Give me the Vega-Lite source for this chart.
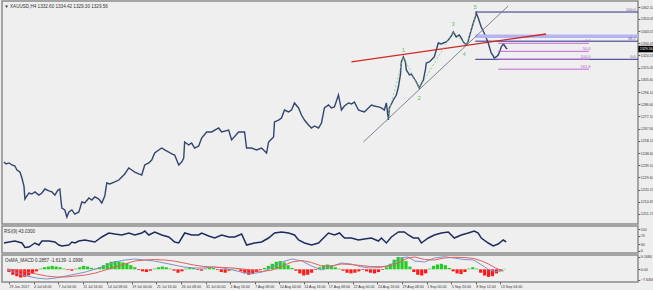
{
 "$schema": "https://vega.github.io/schema/vega-lite/v6.json",
 "background": "#eeeeee",
 "padding": 0,
 "spacing": 2,
 "bounds": "flush",
 "resolve": {"scale": {"x": "independent", "y": "independent"}},
 "config": {
  "view": {"stroke": "#8c8c8c", "strokeWidth": 1.5, "fill": "#efefef"},
  "axis": {"labelFont": "Liberation Sans", "labelFontSize": 3.6, "labelColor": "#333333", "tickColor": "#555555", "tickSize": 1.8, "labelPadding": 0.5, "domain": false, "grid": false, "title": null, "labelOverlap": false, "tickCount": 60},
  "title": {"font": "Liberation Sans", "fontSize": 4.6, "fontWeight": "normal", "color": "#333333", "anchor": "start", "baseline": "top", "offset": -8, "dx": 3}
 },
 "datasets": {
  "price": [
   {"t":0,"p":1241.6},{"t":1.3,"p":1240.1},{"t":3.2,"p":1240.9},{"t":5.1,"p":1239.3},{"t":7.0,"p":1238.5},{"t":8.3,"p":1235.4},{"t":10.2,"p":1233.8},{"t":11.5,"p":1229.2},{"t":12.8,"p":1222.9},{"t":13.4,"p":1212.8},{"t":14.7,"p":1215.2},{"t":16,"p":1217.5},{"t":17.9,"p":1216.7},{"t":19.8,"p":1218.3},{"t":22.4,"p":1215.9},{"t":24.3,"p":1217.5},{"t":26.2,"p":1220.6},{"t":28.8,"p":1219.1},{"t":30.7,"p":1218.3},{"t":32.6,"p":1215.9},{"t":34.6,"p":1219.8},{"t":35.8,"p":1220.6},{"t":36.5,"p":1212.0},{"t":37.1,"p":1205.8},{"t":39,"p":1204.3},{"t":40.3,"p":1198.8},{"t":41.6,"p":1202.7},{"t":43.5,"p":1204.3},{"t":45.4,"p":1201.1},{"t":48,"p":1202.7},{"t":49.9,"p":1210.5},{"t":51.8,"p":1209.7},{"t":54.4,"p":1213.6},{"t":56.3,"p":1212.0},{"t":58.2,"p":1214.4},{"t":60.8,"p":1212.8},{"t":62.7,"p":1209.7},{"t":64.6,"p":1215.2},{"t":65.9,"p":1225.3},{"t":67.8,"p":1224.5},{"t":71,"p":1226.1},{"t":73.6,"p":1227.6},{"t":75.5,"p":1230.0},{"t":77.4,"p":1232.3},{"t":80,"p":1237.0},{"t":81.9,"p":1235.4},{"t":83.8,"p":1233.8},{"t":86.4,"p":1232.3},{"t":88.3,"p":1231.5},{"t":90.2,"p":1239.3},{"t":92.8,"p":1240.9},{"t":94.7,"p":1243.2},{"t":96.6,"p":1248.6},{"t":99.2,"p":1251.0},{"t":101.1,"p":1252.5},{"t":103,"p":1251.0},{"t":105.6,"p":1249.4},{"t":107.5,"p":1247.9},{"t":109.4,"p":1247.1},{"t":112,"p":1239.3},{"t":113.9,"p":1241.6},{"t":115.2,"p":1244.7},{"t":115.8,"p":1257.2},{"t":118.4,"p":1254.9},{"t":120.3,"p":1256.4},{"t":122.2,"p":1252.5},{"t":124.8,"p":1254.1},{"t":126.7,"p":1260.3},{"t":129.9,"p":1265.0},{"t":133.1,"p":1265.0},{"t":137.6,"p":1268.1},{"t":139.5,"p":1265.0},{"t":144,"p":1266.5},{"t":145.9,"p":1258.8},{"t":150.4,"p":1265.0},{"t":154.2,"p":1265.0},{"t":155.5,"p":1252.5},{"t":158.7,"p":1252.5},{"t":161.9,"p":1251.0},{"t":165.1,"p":1252.5},{"t":168.3,"p":1248.6},{"t":169.6,"p":1257.2},{"t":172.8,"p":1261.1},{"t":173.4,"p":1272.8},{"t":176,"p":1274.3},{"t":177.9,"p":1275.9},{"t":179.8,"p":1282.1},{"t":182.4,"p":1280.6},{"t":184.3,"p":1282.1},{"t":186.2,"p":1287.6},{"t":188.8,"p":1283.7},{"t":190.7,"p":1278.2},{"t":192.6,"p":1274.3},{"t":195.2,"p":1270.4},{"t":197.1,"p":1268.1},{"t":199,"p":1269.7},{"t":201.6,"p":1268.1},{"t":203.5,"p":1272.0},{"t":205.4,"p":1283.7},{"t":208,"p":1286.0},{"t":209.9,"p":1283.7},{"t":211.8,"p":1284.5},{"t":214.4,"p":1293.8},{"t":216.3,"p":1282.1},{"t":218.2,"p":1285.2},{"t":220.8,"p":1287.6},{"t":222.7,"p":1286.8},{"t":224.6,"p":1288.3},{"t":227.2,"p":1282.1},{"t":229.1,"p":1281.3},{"t":231,"p":1280.6},{"t":233.6,"p":1283.7},{"t":235.5,"p":1286.0},{"t":237.4,"p":1285.2},{"t":240,"p":1284.5},{"t":241.9,"p":1283.7},{"t":243.8,"p":1282.1},{"t":245.1,"p":1287.6},{"t":246.4,"p":1274.3},{"t":247,"p":1283.7},{"t":249.6,"p":1289.9},{"t":251.5,"p":1293.8},{"t":252.8,"p":1300.0},{"t":254.1,"p":1309.4},{"t":254.7,"p":1319.5},{"t":256,"p":1323.4},{"t":257.3,"p":1319.5},{"t":257.9,"p":1313.3},{"t":259.2,"p":1310.9},{"t":259.8,"p":1309.4},{"t":261.1,"p":1310.1},{"t":262.4,"p":1307.8},{"t":264.3,"p":1303.9},{"t":266.2,"p":1299.2},{"t":267.5,"p":1302.4},{"t":268.8,"p":1305.5},{"t":270.1,"p":1313.3},{"t":270.7,"p":1318.7},{"t":272.6,"p":1319.5},{"t":273.9,"p":1321.0},{"t":275.8,"p":1323.4},{"t":277.1,"p":1328.8},{"t":278.4,"p":1334.3},{"t":280.3,"p":1333.5},{"t":281.6,"p":1334.3},{"t":283.5,"p":1335.1},{"t":284.8,"p":1336.6},{"t":286.7,"p":1339.7},{"t":288,"p":1342.9},{"t":289.9,"p":1339.0},{"t":291.8,"p":1340.5},{"t":293.1,"p":1338.2},{"t":294.4,"p":1335.1},{"t":296.3,"p":1332.7},{"t":297.6,"p":1335.8},{"t":298.2,"p":1339.0},{"t":299.5,"p":1344.4},{"t":300.8,"p":1349.9},{"t":302.1,"p":1354.5},{"t":302.7,"p":1357.6},{"t":304,"p":1353.7},{"t":305.9,"p":1346.7},{"t":307.8,"p":1342.1},{"t":309.1,"p":1338.2},{"t":310.4,"p":1334.3},{"t":312.3,"p":1326.5},{"t":313.6,"p":1324.2},{"t":314.2,"p":1322.6},{"t":315.5,"p":1323.4},{"t":316.8,"p":1324.9},{"t":318.1,"p":1328.8},{"t":318.7,"p":1331.2},{"t":320,"p":1333.5},{"t":320.6,"p":1332.7},{"t":321.9,"p":1330.4},{"t":322.6,"p":1329.6}
  ],
  "trend": [{"t":230.4,"p":1257.2},{"t":323.2,"p":1363.1}],
  "redline": [{"t":222.7,"p":1319.5},{"t":347.5,"p":1341.3}],
  "zigzag": [{"t":245.1,"p":1272.8},{"t":256,"p":1323.4},{"t":266.2,"p":1299.2},{"t":288,"p":1342.9},{"t":296.3,"p":1332.7},{"t":302.7,"p":1357.6}],
  "waves": [{"t":256,"p":1328.8,"w":"1"},{"t":266.2,"p":1291.5,"w":"2"},{"t":288,"p":1349.1,"w":"3"},{"t":295.0,"p":1325.7,"w":"4"},{"t":302.1,"p":1362.3,"w":"5"}],
  "band": [{"t1":302.1,"t2":406.4,"p":1339.5}],
  "fibA": [{"t1":302.1,"t2":406.4,"tl":405,"p":1358.4,"lbl":"100.0"},{"t1":302.1,"t2":406.4,"tl":405,"p":1335.7,"lbl":"38.2"},{"t1":302.1,"t2":406.4,"tl":405,"p":1321.6,"lbl":"0.0"}],
  "fibB": [{"t1":316.8,"t2":375.0,"tl":376,"p":1334.05,"lbl":"0.0"},{"t1":316.8,"t2":375.0,"tl":376,"p":1327.8,"lbl":"50.0"},{"t1":316.8,"t2":375.0,"tl":376,"p":1321.6,"lbl":"100.0"},{"t1":316.8,"t2":375.0,"tl":376,"p":1313.9,"lbl":"161.8"}],
  "last": [{"t1":406.6,"t2":418.5,"p":1329.56,"lbl":"1329.56"}],
  "rsi": [
   {"t":0,"r":36},{"t":3.2,"r":40.7},{"t":7.04,"r":45.3},{"t":11.52,"r":36},{"t":13.44,"r":15},{"t":16,"r":17.3},{"t":19.84,"r":36},{"t":22.4,"r":26.6},{"t":24.32,"r":45.3},{"t":28.8,"r":45.3},{"t":32.64,"r":40.7},{"t":35.2,"r":26.6},{"t":37.12,"r":22},{"t":41.6,"r":26.6},{"t":43.52,"r":40.7},{"t":45.44,"r":36},{"t":48,"r":45.3},{"t":51.84,"r":50},{"t":58.24,"r":40.7},{"t":62.72,"r":64},{"t":67.2,"r":82.7},{"t":71.04,"r":78},{"t":75.52,"r":73.4},{"t":80,"r":82.7},{"t":83.84,"r":73.4},{"t":88.32,"r":82.7},{"t":90.24,"r":92},{"t":92.8,"r":73.4},{"t":96.64,"r":87.4},{"t":101.12,"r":73.4},{"t":105.6,"r":64},{"t":109.44,"r":40.7},{"t":112,"r":36},{"t":115.84,"r":82.7},{"t":120.32,"r":73.4},{"t":124.8,"r":73.4},{"t":126.72,"r":82.7},{"t":131.2,"r":68.7},{"t":135.04,"r":59.3},{"t":139.52,"r":73.4},{"t":144,"r":64},{"t":147.84,"r":64},{"t":152.32,"r":78},{"t":155.52,"r":26.6},{"t":160.64,"r":36},{"t":165.12,"r":40.7},{"t":169.6,"r":59.3},{"t":173.44,"r":82.7},{"t":177.92,"r":87.4},{"t":182.4,"r":82.7},{"t":186.24,"r":73.4},{"t":188.8,"r":50},{"t":192.64,"r":36},{"t":197.12,"r":26.6},{"t":201.6,"r":36},{"t":203.52,"r":50},{"t":206.72,"r":73.4},{"t":208,"r":82.7},{"t":211.84,"r":73.4},{"t":215.04,"r":82.7},{"t":218.24,"r":59.3},{"t":222.72,"r":59.3},{"t":227.2,"r":50},{"t":231.04,"r":54.7},{"t":235.52,"r":59.3},{"t":240,"r":45.3},{"t":241.92,"r":59.3},{"t":245.12,"r":36},{"t":248.32,"r":64},{"t":252.8,"r":87.4},{"t":256.64,"r":87.4},{"t":259.2,"r":73.4},{"t":262.4,"r":59.3},{"t":265.6,"r":59.3},{"t":267.52,"r":36},{"t":272,"r":59.3},{"t":275.84,"r":73.4},{"t":280.32,"r":82.7},{"t":284.8,"r":87.4},{"t":288.64,"r":59.3},{"t":293.12,"r":73.4},{"t":297.6,"r":82.7},{"t":301.44,"r":92},{"t":304,"r":82.7},{"t":305.92,"r":59.3},{"t":310.4,"r":36},{"t":313.6,"r":22},{"t":316.8,"r":31.3},{"t":320,"r":50},{"t":321.92,"r":40.7}
  ],
  "macd": [
   {"t":-1.28,"m":-0.51,"s":0.22},{"t":5.12,"m":-2.69,"s":-0.51},{"t":11.52,"m":-4.88,"s":-1.97},{"t":17.92,"m":-6.33,"s":-3.42},{"t":24.32,"m":-7.06,"s":-4.88},{"t":30.72,"m":-6.33,"s":-5.6},{"t":37.12,"m":-4.88,"s":-5.6},{"t":43.52,"m":-3.42,"s":-4.88},{"t":49.92,"m":-1.97,"s":-4.15},{"t":56.32,"m":0.22,"s":-2.69},{"t":62.72,"m":2.4,"s":-0.51},{"t":69.12,"m":5.31,"s":1.67},{"t":75.52,"m":6.77,"s":3.86},{"t":81.92,"m":7.5,"s":6.04},{"t":88.32,"m":6.77,"s":6.77},{"t":94.72,"m":6.04,"s":7.13},{"t":101.12,"m":4.59,"s":6.77},{"t":107.52,"m":3.13,"s":6.04},{"t":113.92,"m":1.67,"s":4.59},{"t":120.32,"m":0.95,"s":3.13},{"t":126.72,"m":0.95,"s":2.04},{"t":133.12,"m":1.67,"s":1.67},{"t":139.52,"m":0.95,"s":1.31},{"t":145.92,"m":-0.51,"s":0.95},{"t":152.32,"m":-2.33,"s":0.22},{"t":158.72,"m":-3.06,"s":-0.87},{"t":165.12,"m":-1.97,"s":-1.6},{"t":171.52,"m":1.67,"s":-0.51},{"t":177.92,"m":5.31,"s":2.4},{"t":184.32,"m":7.5,"s":5.31},{"t":190.72,"m":6.04,"s":6.4},{"t":197.12,"m":2.4,"s":4.95},{"t":203.52,"m":-0.51,"s":2.4},{"t":209.92,"m":1.89,"s":2.4},{"t":216.32,"m":4.59,"s":3.86},{"t":222.72,"m":3.86,"s":3.49},{"t":229.12,"m":1.89,"s":2.77},{"t":235.52,"m":0.95,"s":2.04},{"t":241.92,"m":1.31,"s":1.89},{"t":248.32,"m":3.13,"s":2.4},{"t":254.72,"m":8.22,"s":5.31},{"t":259.84,"m":8.95,"s":8.22},{"t":264.32,"m":6.04,"s":8.95},{"t":270.72,"m":5.31,"s":7.13},{"t":277.12,"m":8.22,"s":6.77},{"t":283.52,"m":9.17,"s":8.22},{"t":289.92,"m":8.22,"s":8.73},{"t":296.32,"m":7.13,"s":8.59},{"t":302.72,"m":6.77,"s":7.86},{"t":307.84,"m":3.13,"s":6.04},{"t":312.32,"m":-0.15,"s":3.86},{"t":316.8,"m":-1.75,"s":0.95},{"t":321.92,"m":-1.02,"s":-1.24}
  ],
  "hist": [
   {"t":0,"h":-2},{"t":2.56,"h":-4},{"t":5.12,"h":-5},{"t":7.68,"h":-6},{"t":10.24,"h":-5.5},{"t":12.8,"h":-4.5},{"t":15.36,"h":-3},{"t":17.92,"h":-1.5},{"t":20.48,"h":0.5},{"t":23.04,"h":1.5},{"t":25.6,"h":2},{"t":28.16,"h":2.5},{"t":30.72,"h":2},{"t":33.28,"h":1.5},{"t":35.84,"h":0.5},{"t":38.4,"h":-0.5},{"t":40.96,"h":-1},{"t":43.52,"h":0.5},{"t":46.08,"h":1.5},{"t":48.64,"h":2.5},{"t":51.2,"h":2},{"t":53.76,"h":1},{"t":56.32,"h":0.5},{"t":58.88,"h":1.5},{"t":61.44,"h":3},{"t":64,"h":4.5},{"t":66.56,"h":5.5},{"t":69.12,"h":6},{"t":71.68,"h":5.5},{"t":74.24,"h":5},{"t":76.8,"h":4.5},{"t":79.36,"h":3},{"t":81.92,"h":1.5},{"t":84.48,"h":-0.5},{"t":87.04,"h":-1.5},{"t":89.6,"h":-2},{"t":92.16,"h":-1},{"t":94.72,"h":0.5},{"t":97.28,"h":1.5},{"t":99.84,"h":2},{"t":102.4,"h":1.5},{"t":104.96,"h":0.5},{"t":107.52,"h":-1},{"t":110.08,"h":-2.5},{"t":112.64,"h":-1.5},{"t":115.2,"h":0.5},{"t":117.76,"h":1.5},{"t":120.32,"h":1},{"t":122.88,"h":-0.5},{"t":125.44,"h":-1},{"t":128,"h":0.5},{"t":130.56,"h":1.5},{"t":133.12,"h":1},{"t":135.68,"h":-0.5},{"t":138.24,"h":-2},{"t":140.8,"h":-2.5},{"t":143.36,"h":-1},{"t":145.92,"h":0.5},{"t":148.48,"h":0.5},{"t":151.04,"h":-1.5},{"t":153.6,"h":-3},{"t":156.16,"h":-4},{"t":158.72,"h":-3.5},{"t":161.28,"h":-2},{"t":163.84,"h":-0.5},{"t":166.4,"h":1},{"t":168.96,"h":2.5},{"t":171.52,"h":4},{"t":174.08,"h":5.5},{"t":176.64,"h":6},{"t":179.2,"h":5},{"t":181.76,"h":3},{"t":184.32,"h":1},{"t":186.88,"h":-1},{"t":189.44,"h":-3},{"t":192,"h":-4.5},{"t":194.56,"h":-4},{"t":197.12,"h":-2.5},{"t":199.68,"h":-0.5},{"t":202.24,"h":1.5},{"t":204.8,"h":3},{"t":207.36,"h":3.5},{"t":209.92,"h":3},{"t":212.48,"h":1.5},{"t":215.04,"h":0.5},{"t":217.6,"h":-1},{"t":220.16,"h":-2.5},{"t":222.72,"h":-3},{"t":225.28,"h":-2.5},{"t":227.84,"h":-1.5},{"t":230.4,"h":-0.5},{"t":232.96,"h":-1.5},{"t":235.52,"h":-2.5},{"t":238.08,"h":-3},{"t":240.64,"h":-2},{"t":243.2,"h":-0.5},{"t":245.76,"h":1.5},{"t":248.32,"h":4},{"t":250.88,"h":7},{"t":253.44,"h":9},{"t":256,"h":8.5},{"t":258.56,"h":6},{"t":261.12,"h":2},{"t":263.68,"h":-2},{"t":266.24,"h":-4},{"t":268.8,"h":-4.5},{"t":271.36,"h":-3},{"t":273.92,"h":0.5},{"t":276.48,"h":2.5},{"t":279.04,"h":3.5},{"t":281.6,"h":4},{"t":284.16,"h":3},{"t":286.72,"h":1},{"t":289.28,"h":-1.5},{"t":291.84,"h":-3},{"t":294.4,"h":-3.5},{"t":296.96,"h":-2},{"t":299.52,"h":0.5},{"t":302.08,"h":1.5},{"t":304.64,"h":0.5},{"t":307.2,"h":-2.5},{"t":309.76,"h":-4.5},{"t":312.32,"h":-5.5},{"t":314.88,"h":-5},{"t":317.44,"h":-3},{"t":320,"h":-1},{"t":322.56,"h":0.3}
  ]
 },
 "vconcat": [
  {
   "width": 636, "height": 223,
   "title": {"text": "▼ XAUUSD,H4  1332.60 1334.42 1329.30 1329.56"},
   "layer": [
    {
     "data": {"name": "price"},
     "mark": {"type": "line", "color": "#34456f", "strokeWidth": 1.4},
     "encoding": {
      "x": {"field": "t", "type": "quantitative", "scale": {"domain": [-1.28, 406.4], "nice": false, "zero": false}, "axis": null},
      "y": {"field": "p", "type": "quantitative", "scale": {"domain": [1193.35, 1366.98], "nice": false, "zero": false},
            "axis": {"orient": "right", "labelOverlap": false, "tickCount": 60, "values": [1201.15,1210.65,1220.15,1229.6,1239.1,1248.6,1258.1,1267.6,1277.1,1286.6,1296.1,1305.6,1315.05,1324.55,1334.05,1343.55,1353.05,1362.1], "labelExpr": "format(datum.value, '.2f')"}}
     }
    },
    {
     "mark": {"type": "rule", "color": "#c4c4c4", "strokeWidth": 0.8},
     "encoding": {"y": {"datum": 1329.56}}
    },
    {
     "data": {"name": "band"},
     "mark": {"type": "rule", "color": "#b4b4f2", "strokeWidth": 3.5},
     "encoding": {"x": {"field": "t1", "type": "quantitative"}, "x2": {"field": "t2"}, "y": {"field": "p", "type": "quantitative"}}
    },
    {
     "data": {"name": "fibA"},
     "mark": {"type": "rule", "color": "#2c2f86", "strokeWidth": 1},
     "encoding": {"x": {"field": "t1", "type": "quantitative"}, "x2": {"field": "t2"}, "y": {"field": "p", "type": "quantitative"}}
    },
    {
     "data": {"name": "fibA"},
     "mark": {"type": "text", "color": "#8a4fa8", "fontSize": 4, "align": "right", "baseline": "bottom", "dy": -0.5, "font": "Liberation Sans"},
     "encoding": {"x": {"field": "tl", "type": "quantitative"}, "y": {"field": "p", "type": "quantitative"}, "text": {"field": "lbl"}}
    },
    {
     "data": {"name": "fibB"},
     "mark": {"type": "rule", "color": "#c266d6", "strokeWidth": 1},
     "encoding": {"x": {"field": "t1", "type": "quantitative"}, "x2": {"field": "t2"}, "y": {"field": "p", "type": "quantitative"}}
    },
    {
     "data": {"name": "fibB"},
     "mark": {"type": "text", "color": "#b060c8", "fontSize": 4, "align": "right", "baseline": "bottom", "dy": -0.5, "font": "Liberation Sans"},
     "encoding": {"x": {"field": "tl", "type": "quantitative"}, "y": {"field": "p", "type": "quantitative"}, "text": {"field": "lbl"}}
    },
    {
     "data": {"name": "trend"},
     "mark": {"type": "line", "color": "#6f7b8c", "strokeWidth": 0.9},
     "encoding": {"x": {"field": "t", "type": "quantitative"}, "y": {"field": "p", "type": "quantitative"}}
    },
    {
     "data": {"name": "redline"},
     "mark": {"type": "line", "color": "#d02828", "strokeWidth": 1.3},
     "encoding": {"x": {"field": "t", "type": "quantitative"}, "y": {"field": "p", "type": "quantitative"}}
    },
    {
     "data": {"name": "zigzag"},
     "mark": {"type": "line", "color": "#7ccf7c", "strokeWidth": 0.8, "strokeDash": [2, 2]},
     "encoding": {"x": {"field": "t", "type": "quantitative"}, "y": {"field": "p", "type": "quantitative"}}
    },
    {
     "data": {"name": "waves"},
     "mark": {"type": "text", "color": "#66c066", "fontSize": 6, "font": "Liberation Sans"},
     "encoding": {"x": {"field": "t", "type": "quantitative"}, "y": {"field": "p", "type": "quantitative"}, "text": {"field": "w"}}
    },
    {
     "data": {"name": "last"},
     "mark": {"type": "rule", "color": "#000000", "strokeWidth": 6.5},
     "encoding": {"x": {"field": "t1", "type": "quantitative"}, "x2": {"field": "t2"}, "y": {"field": "p", "type": "quantitative"}}
    },
    {
     "data": {"name": "last"},
     "mark": {"type": "text", "color": "#ffffff", "fontSize": 3.6, "align": "left", "baseline": "middle", "dx": 1.5, "font": "Liberation Sans"},
     "encoding": {"x": {"field": "t1", "type": "quantitative"}, "y": {"field": "p", "type": "quantitative"}, "text": {"field": "lbl"}}
    }
   ]
  },
  {
   "width": 636, "height": 27,
   "title": {"text": "RSI(9) 43.0300"},
   "layer": [
    {
     "data": {"name": "rsi"},
     "mark": {"type": "line", "color": "#1f2d5e", "strokeWidth": 1.5},
     "encoding": {
      "x": {"field": "t", "type": "quantitative", "scale": {"domain": [-1.28, 406.4], "nice": false, "zero": false}, "axis": null},
      "y": {"field": "r", "type": "quantitative", "scale": {"domain": [-10.7, 115.4], "nice": false, "zero": false}, "axis": {"orient": "right", "labelOverlap": false, "tickCount": 60, "values": [0, 30, 70, 100]}}
     }
    },
    {
     "mark": {"type": "rule", "color": "#b0b0b0", "strokeWidth": 0.7, "strokeDash": [1.5, 1.5]},
     "encoding": {"y": {"datum": 70}}
    },
    {
     "mark": {"type": "rule", "color": "#b0b0b0", "strokeWidth": 0.7, "strokeDash": [1.5, 1.5]},
     "encoding": {"y": {"datum": 30}}
    }
   ]
  },
  {
   "width": 636, "height": 27,
   "title": {"text": "OsMA_MACD 0.2857 -1.6139 -1.0996"},
   "layer": [
    {
     "data": {"name": "hist"},
     "mark": {"type": "bar", "size": 3.2},
     "encoding": {
      "x": {"field": "t", "type": "quantitative", "scale": {"domain": [-1.28, 406.4], "nice": false, "zero": false},
            "axis": {"orient": "bottom", "labelOverlap": false, "tickCount": 60, "values": [0,16,32,48,64,80,96,112,128,144,160,176,192,208,224,240,256,272,288,304,320], "labelAlign": "left", "labelPadding": 1, "labelExpr": "['29 Jun 2017','4 Jul 04:00','7 Jul 00:00','11 Jul 16:00','14 Jul 08:00','19 Jul 00:00','21 Jul 16:00','26 Jul 08:00','31 Jul 00:00','2 Aug 16:00','7 Aug 08:00','10 Aug 00:00','14 Aug 16:00','17 Aug 08:00','22 Aug 00:00','24 Aug 16:00','29 Aug 08:00','1 Sep 00:00','5 Sep 20:00','8 Sep 12:00','13 Sep 04:00'][round(datum.value / 16)]"}},
      "y": {"field": "h", "type": "quantitative", "scale": {"domain": [-9.24, 10.41], "nice": false, "zero": false},
            "axis": {"orient": "right", "labelOverlap": false, "tickCount": 60, "values": [-7.6308, 0, 9.1684], "labelExpr": "datum.value == 0 ? '0.00' : format(datum.value, '.4f')"}},
      "color": {"condition": {"test": "datum.h >= 0", "value": "#22cc22"}, "value": "#ff1a1a"}
     }
    },
    {
     "data": {"name": "macd"},
     "mark": {"type": "line", "color": "#8090c8", "strokeWidth": 1},
     "encoding": {"x": {"field": "t", "type": "quantitative"}, "y": {"field": "m", "type": "quantitative"}}
    },
    {
     "data": {"name": "macd"},
     "mark": {"type": "line", "color": "#e06060", "strokeWidth": 1},
     "encoding": {"x": {"field": "t", "type": "quantitative"}, "y": {"field": "s", "type": "quantitative"}}
    }
   ]
  }
 ]
}
